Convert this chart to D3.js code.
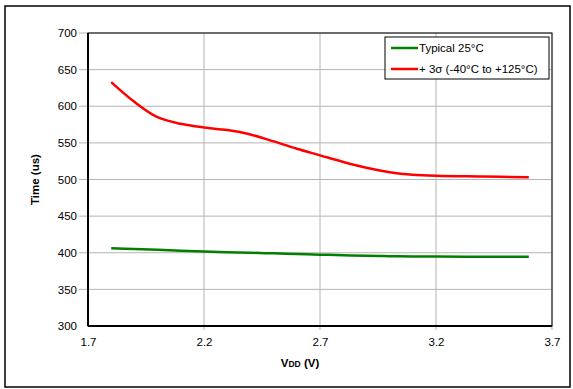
<!DOCTYPE html>
<html>
<head>
<meta charset="utf-8">
<script src="https://cdn.jsdelivr.net/npm/d3@7"></script>
<style>
  body { margin: 0; background: #fff; }
  text { font-family: "Liberation Sans", Arial, sans-serif; fill: #000; }
</style>
</head>
<body>
<script>
// values
let vdd = [1.8, 1.9, 2.0, 2.1, 2.2, 2.3, 2.4, 2.5, 2.6, 2.7, 2.8, 2.9, 3.0, 3.1, 3.2, 3.4, 3.6];
let typical = [406, 405, 404, 402.6, 401.6, 400.8, 400, 399.2, 398.3, 397.4, 396.6, 395.9, 395.3, 395, 394.8, 394.6, 394.4];
let sigma3 = [633, 606, 585, 576, 571, 567.5, 561.5, 552, 542, 533, 524, 516, 510, 506.5, 505, 504, 503];
let xTicks = [1.7, 2.2, 2.7, 3.2, 3.7];
let yTicks = [300, 350, 400, 450, 500, 550, 600, 650, 700];
let seriesNames = ['Typical 25°C', '+ 3σ (-40°C to +125°C)'];
let seriesColors = ['#008000', '#ff0000'];

let W = 573, H = 389;
let margin = { top: 33, right: 21, bottom: 63, left: 88 };
let width = W - margin.left - margin.right;
let height = H - margin.top - margin.bottom;

let svg = d3.select('body').append('svg')
    .attr('width', W)
    .attr('height', H);

// outer frame
svg.append('rect')
  .attr('x', 5).attr('y', 6)
  .attr('width', 565).attr('height', 381)
  .attr('fill', 'none').attr('stroke', '#000').attr('stroke-width', 1.5);

let g = svg.append('g')
  .attr('transform', 'translate(' + margin.left + ',' + margin.top + ')');

let x = d3.scaleLinear().domain([1.7, 3.7]).range([0, width]);
let y = d3.scaleLinear().domain([300, 700]).range([height, 0]);

// grid lines
g.append('g')
  .selectAll('line.hgrid')
  .data(yTicks.slice(1))
  .enter().append('line')
    .attr('x1', -9).attr('x2', width)
    .attr('y1', d => y(d)).attr('y2', d => y(d))
    .attr('stroke', '#b4b4b4').attr('stroke-width', 1);

g.append('g')
  .selectAll('line.vgrid')
  .data(xTicks.slice(1))
  .enter().append('line')
    .attr('x1', d => x(d)).attr('x2', d => x(d))
    .attr('y1', 0).attr('y2', height + 4)
    .attr('stroke', '#b4b4b4').attr('stroke-width', 1);

// axes (labels only, lines drawn below)
let yAxis = d3.axisLeft(y).tickValues(yTicks).tickSize(0).tickPadding(11);
let xAxis = d3.axisBottom(x).tickValues(xTicks).tickSize(0).tickPadding(12)
  .tickFormat(d3.format('.1f'));

let ya = g.append('g').call(yAxis);
let xa = g.append('g').attr('transform', 'translate(0,' + height + ')').call(xAxis);
[ya, xa].forEach(a => {
  a.select('.domain').remove();
  a.selectAll('text').style('font-size', '11.5px')
    .style('font-family', '"Liberation Sans", Arial, sans-serif');
});

// plot border
g.append('rect')
  .attr('width', width).attr('height', height)
  .attr('fill', 'none').attr('stroke', '#000').attr('stroke-width', 1);
g.append('line').attr('x1', 0).attr('x2', 0).attr('y1', 0).attr('y2', height)
  .attr('stroke', '#000').attr('stroke-width', 2);
g.append('line').attr('x1', 0).attr('x2', width).attr('y1', height).attr('y2', height)
  .attr('stroke', '#000').attr('stroke-width', 2);

// lines
let line = d3.line()
  .x((d, i) => x(vdd[i]))
  .y(d => y(d))
  .curve(d3.curveCatmullRom.alpha(0.5));

[typical, sigma3].forEach((s, i) => {
  g.append('path')
    .datum(s)
    .attr('d', line)
    .attr('fill', 'none')
    .attr('stroke', seriesColors[i])
    .attr('stroke-width', 2.5);
});

// legend
let lg = svg.append('g').attr('transform', 'translate(385,37)');
lg.append('rect')
  .attr('width', 164).attr('height', 42)
  .attr('fill', '#fff').attr('stroke', '#000').attr('stroke-width', 1);
seriesNames.forEach((n, i) => {
  let yy = 11 + i * 21;
  lg.append('line')
    .attr('x1', 6).attr('x2', 33).attr('y1', yy).attr('y2', yy)
    .attr('stroke', seriesColors[i]).attr('stroke-width', 2.5);
  lg.append('text')
    .attr('x', 34).attr('y', yy + 4)
    .style('font-size', '11.5px')
    .text(n);
});

// axis titles
let xt = svg.append('text')
  .attr('x', margin.left + width / 2 - 20).attr('y', 367)
  .attr('text-anchor', 'middle')
  .style('font-size', '11.5px').style('font-weight', 'bold');
xt.append('tspan').text('V');
xt.append('tspan').style('font-size', '8.5px').text('DD');
xt.append('tspan').text(' (V)');

svg.append('text')
  .attr('transform', 'translate(39,' + (margin.top + height / 2) + ') rotate(-90)')
  .attr('text-anchor', 'middle')
  .style('font-size', '11.5px').style('font-weight', 'bold')
  .text('Time (us)');
</script>
</body>
</html>
